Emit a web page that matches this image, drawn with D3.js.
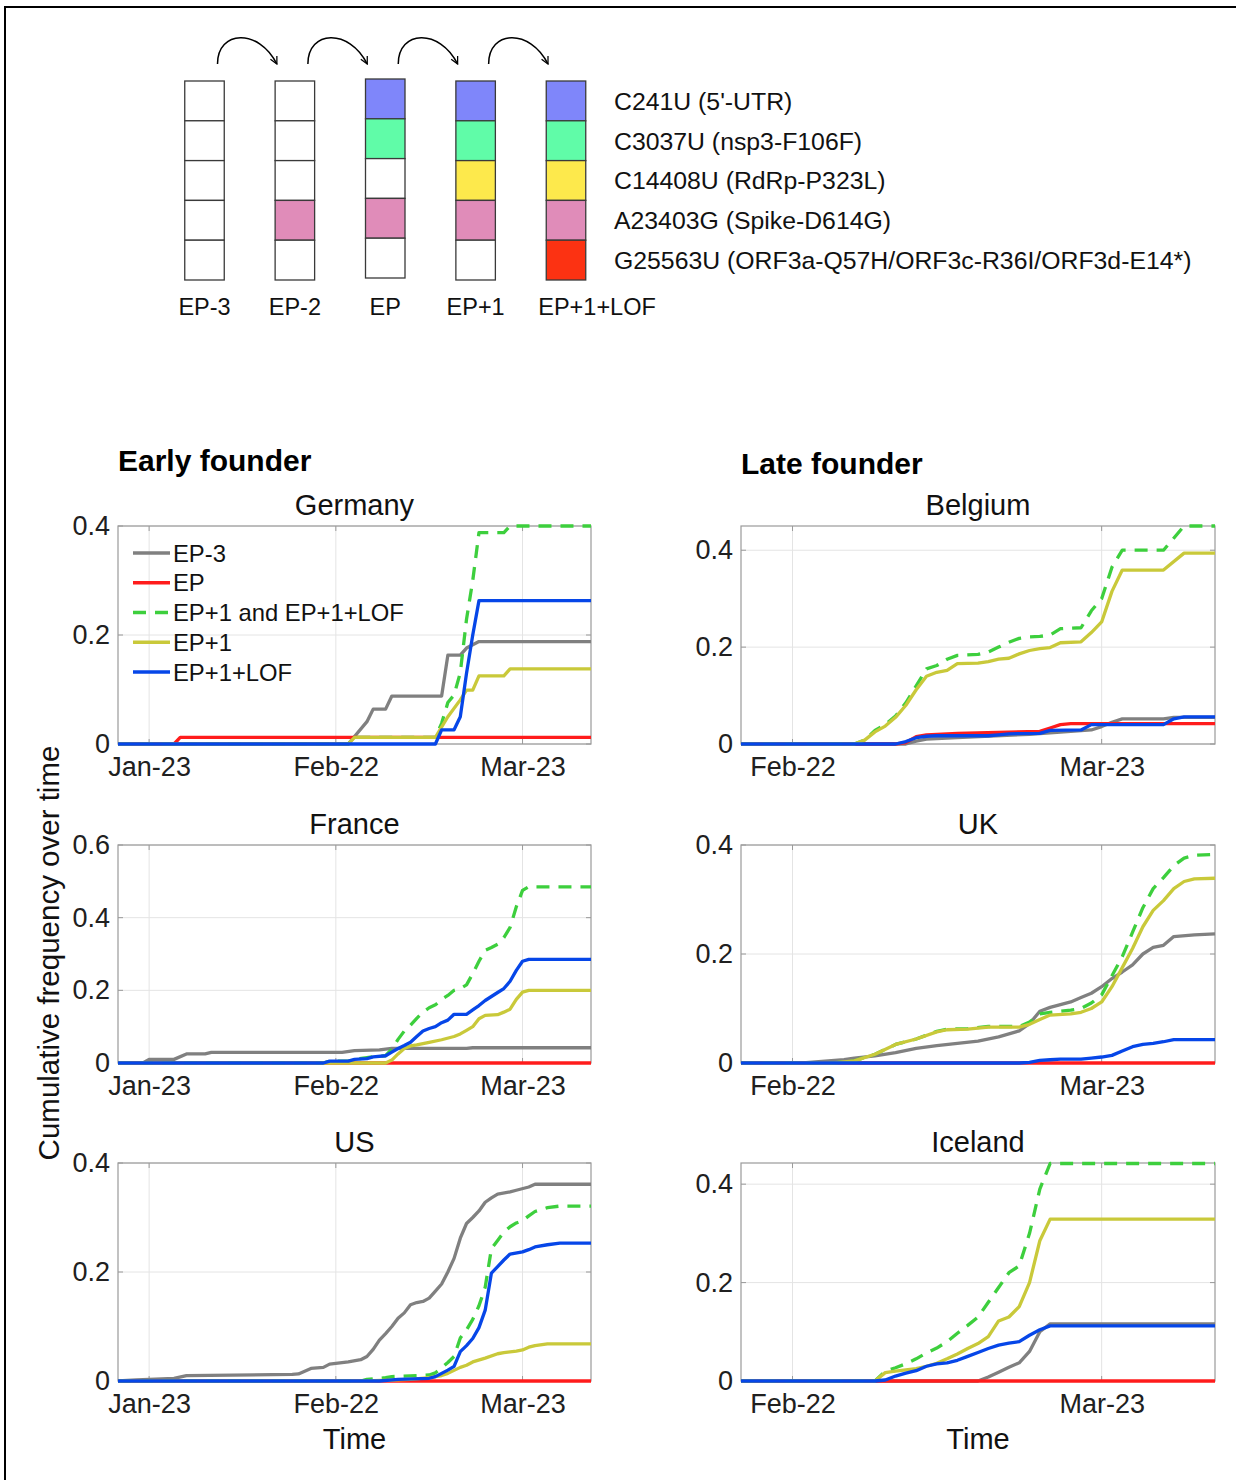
<!DOCTYPE html>
<html>
<head>
<meta charset="utf-8">
<title>EP lineages - cumulative frequency</title>
<style>
  body { margin: 0; background: #fff; }
  svg { font-family: "Liberation Sans", Arial, Helvetica, sans-serif; }
</style>
</head>
<body>
<svg id="fig" width="1236" height="1480"></svg>
<script src="https://cdn.jsdelivr.net/npm/d3@7/dist/d3.min.js"></script>
<script>
// ---- top diagram ----
var genotypes = ["EP-3", "EP-2", "EP", "EP+1", "EP+1+LOF"];
var mutations = ["C241U (5'-UTR)", "C3037U (nsp3-F106F)", "C14408U (RdRp-P323L)",
                 "A23403G (Spike-D614G)", "G25563U (ORF3a-Q57H/ORF3c-R36I/ORF3d-E14*)"];
var mutationColors = ["#7f86fa", "#60fca8", "#fde94c", "#e08cb9", "#fc3212"];
// which mutations each genotype carries (rows follow mutations)
var carries = {
  "EP-3":     [0, 0, 0, 0, 0],
  "EP-2":     [0, 0, 0, 1, 0],
  "EP":       [1, 1, 0, 1, 0],
  "EP+1":     [1, 1, 1, 1, 0],
  "EP+1+LOF": [1, 1, 1, 1, 1]
};

// ---- line charts ----
var seriesNames = ["EP-3", "EP", "EP+1 and EP+1+LOF", "EP+1", "EP+1+LOF"];
var leftTicks = ["01-23", "02-22", "03-23"];
var rightTicks = ["02-22", "03-23"];

var gerEP3 = [["01-18",0],["02-24",0],["02-27",0.041],["02-28",0.064],["03-01",0.064],["03-02",0.088],["03-10",0.088],["03-11",0.163],["03-13",0.163],["03-14",0.176],["03-16",0.188],["04-03",0.188]];
var gerEP = [["01-18",0],["01-27",0],["01-28",0.012],["04-03",0.012]];
var gerBoth = [["01-18",0],["02-24",0],["02-25",0.012],["03-09",0.012],["03-10",0.038],["03-11",0.076],["03-12",0.09],["03-13",0.131],["03-14",0.229],["03-15",0.3],["03-16",0.388],["03-20",0.388],["03-21",0.4],["04-03",0.4]];
var gerEP1 = [["01-18",0],["02-24",0],["02-25",0.012],["03-09",0.012],["03-11",0.05],["03-13",0.081],["03-14",0.099],["03-15",0.099],["03-16",0.125],["03-20",0.125],["03-21",0.138],["04-03",0.138]];
var gerLOF = [["01-18",0],["03-09",0],["03-10",0.026],["03-12",0.026],["03-13",0.05],["03-14",0.13],["03-15",0.2],["03-16",0.263],["04-03",0.263]];

var fraEP3 = [["01-18",0],["01-22",0],["01-23",0.01],["01-27",0.01],["01-29",0.025],["02-01",0.025],["02-02",0.029],["02-23",0.029],["02-25",0.034],["02-29",0.036],["03-02",0.04],["03-14",0.04],["03-15",0.042],["04-03",0.042]];
var fraEP = [["01-18",0],["04-03",0]];
var fraBoth = [["01-18",0],["02-20",0],["02-21",0.005],["02-24",0.005],["02-25",0.01],["02-28",0.017],["03-01",0.02],["03-02",0.038],["03-03",0.065],["03-04",0.088],["03-05",0.104],["03-06",0.123],["03-07",0.14],["03-08",0.152],["03-09",0.16],["03-10",0.175],["03-11",0.186],["03-12",0.2],["03-13",0.205],["03-14",0.215],["03-15",0.246],["03-16",0.28],["03-17",0.31],["03-18",0.318],["03-19",0.327],["03-20",0.345],["03-21",0.373],["03-22",0.43],["03-23",0.475],["03-24",0.485],["04-03",0.485]];
var fraEP1 = [["01-18",0],["03-01",0],["03-02",0.008],["03-03",0.025],["03-04",0.04],["03-05",0.047],["03-06",0.05],["03-08",0.057],["03-10",0.064],["03-12",0.073],["03-13",0.08],["03-14",0.09],["03-15",0.1],["03-16",0.122],["03-17",0.131],["03-19",0.133],["03-20",0.14],["03-21",0.148],["03-22",0.175],["03-23",0.195],["03-24",0.2],["04-03",0.2]];
var fraLOF = [["01-18",0],["02-20",0],["02-21",0.005],["02-24",0.005],["02-25",0.01],["02-27",0.012],["02-28",0.017],["03-01",0.02],["03-02",0.03],["03-03",0.04],["03-04",0.048],["03-05",0.057],["03-06",0.073],["03-07",0.088],["03-08",0.095],["03-09",0.1],["03-10",0.111],["03-11",0.118],["03-12",0.134],["03-14",0.134],["03-15",0.146],["03-16",0.158],["03-17",0.172],["03-18",0.183],["03-19",0.194],["03-20",0.205],["03-21",0.225],["03-22",0.255],["03-23",0.28],["03-24",0.285],["04-03",0.285]];

var usEP3 = [["01-18",0],["01-21",0.002],["01-23",0.003],["01-27",0.005],["01-29",0.01],["02-15",0.012],["02-16",0.013],["02-18",0.023],["02-20",0.025],["02-21",0.031],["02-24",0.035],["02-26",0.039],["02-27",0.045],["02-28",0.058],["02-29",0.075],["03-01",0.087],["03-02",0.1],["03-03",0.115],["03-04",0.125],["03-05",0.14],["03-06",0.144],["03-07",0.146],["03-08",0.152],["03-09",0.165],["03-10",0.178],["03-11",0.2],["03-12",0.225],["03-13",0.262],["03-14",0.289],["03-15",0.3],["03-16",0.312],["03-17",0.328],["03-18",0.336],["03-19",0.343],["03-21",0.347],["03-22",0.35],["03-24",0.356],["03-25",0.361],["04-03",0.361]];
var usEP = [["01-18",0],["04-03",0]];
var usBoth = [["01-18",0],["02-26",0],["02-27",0.003],["03-01",0.006],["03-02",0.008],["03-08",0.011],["03-09",0.015],["03-10",0.024],["03-11",0.034],["03-12",0.045],["03-13",0.079],["03-14",0.094],["03-15",0.113],["03-16",0.138],["03-17",0.172],["03-18",0.243],["03-19",0.258],["03-20",0.273],["03-21",0.283],["03-22",0.29],["03-23",0.294],["03-24",0.303],["03-25",0.311],["03-27",0.318],["03-29",0.321],["04-03",0.321]];
var usEP1 = [["01-18",0],["02-27",0],["03-05",0.003],["03-08",0.006],["03-10",0.01],["03-11",0.014],["03-13",0.025],["03-14",0.029],["03-15",0.035],["03-17",0.042],["03-19",0.05],["03-20",0.052],["03-22",0.055],["03-23",0.057],["03-24",0.062],["03-25",0.065],["03-27",0.068],["04-03",0.068]];
var usLOF = [["01-18",0],["02-29",0],["03-03",0.003],["03-08",0.005],["03-09",0.008],["03-10",0.014],["03-11",0.02],["03-12",0.027],["03-13",0.054],["03-14",0.065],["03-15",0.078],["03-16",0.098],["03-17",0.13],["03-18",0.198],["03-19",0.21],["03-20",0.222],["03-21",0.233],["03-23",0.237],["03-24",0.241],["03-25",0.246],["03-27",0.25],["03-29",0.253],["04-03",0.253]];

var belEP3 = [["02-17",0],["03-04",0],["03-05",0.006],["03-06",0.01],["03-09",0.013],["03-16",0.02],["03-22",0.029],["03-23",0.036],["03-24",0.045],["03-25",0.052],["03-29",0.052],["03-30",0.055],["04-03",0.055]];
var belEP = [["02-17",0],["03-03",0],["03-04",0.003],["03-05",0.015],["03-06",0.019],["03-09",0.022],["03-17",0.026],["03-18",0.033],["03-19",0.04],["03-20",0.042],["04-03",0.042]];
var belBoth = [["02-17",0],["02-28",0],["02-29",0.008],["03-01",0.028],["03-02",0.04],["03-03",0.058],["03-04",0.085],["03-05",0.12],["03-06",0.155],["03-07",0.162],["03-08",0.175],["03-09",0.183],["03-11",0.185],["03-12",0.19],["03-13",0.2],["03-14",0.21],["03-15",0.218],["03-16",0.221],["03-17",0.222],["03-18",0.225],["03-19",0.238],["03-21",0.24],["03-22",0.275],["03-23",0.3],["03-24",0.365],["03-25",0.4],["03-29",0.4],["03-31",0.45],["04-03",0.45]];
var belEP1 = [["02-17",0],["02-28",0],["02-29",0.008],["03-01",0.025],["03-02",0.037],["03-03",0.055],["03-04",0.08],["03-05",0.112],["03-06",0.14],["03-07",0.148],["03-08",0.152],["03-09",0.166],["03-11",0.167],["03-12",0.17],["03-13",0.175],["03-14",0.177],["03-15",0.186],["03-16",0.193],["03-17",0.197],["03-18",0.199],["03-19",0.209],["03-21",0.211],["03-22",0.23],["03-23",0.252],["03-24",0.315],["03-25",0.359],["03-29",0.359],["03-31",0.394],["04-03",0.394]];
var belLOF = [["02-17",0],["03-03",0],["03-04",0.005],["03-05",0.013],["03-06",0.016],["03-07",0.017],["03-12",0.017],["03-13",0.019],["03-14",0.021],["03-17",0.022],["03-18",0.028],["03-21",0.029],["03-22",0.04],["03-29",0.04],["03-30",0.052],["03-31",0.056],["04-03",0.056]];

var ukEP3 = [["02-17",0],["02-23",0],["02-27",0.006],["02-28",0.009],["03-01",0.013],["03-03",0.019],["03-05",0.027],["03-07",0.032],["03-09",0.036],["03-11",0.04],["03-13",0.048],["03-15",0.059],["03-16",0.072],["03-17",0.095],["03-18",0.102],["03-19",0.107],["03-20",0.112],["03-21",0.12],["03-22",0.128],["03-23",0.14],["03-24",0.155],["03-25",0.167],["03-26",0.18],["03-27",0.2],["03-28",0.212],["03-29",0.216],["03-30",0.232],["04-01",0.235],["04-03",0.237]];
var ukEP = [["02-17",0],["04-03",0]];
var ukBoth = [["02-17",0],["02-26",0],["02-28",0.004],["03-01",0.016],["03-03",0.034],["03-05",0.044],["03-07",0.058],["03-08",0.062],["03-10",0.063],["03-12",0.067],["03-15",0.067],["03-16",0.075],["03-17",0.09],["03-18",0.093],["03-20",0.097],["03-21",0.1],["03-22",0.11],["03-23",0.125],["03-24",0.16],["03-25",0.195],["03-26",0.24],["03-27",0.285],["03-28",0.32],["03-29",0.34],["03-30",0.362],["03-31",0.376],["04-01",0.381],["04-03",0.383]];
var ukEP1 = [["02-17",0],["02-26",0],["02-28",0.004],["03-01",0.016],["03-03",0.034],["03-05",0.044],["03-07",0.057],["03-08",0.061],["03-10",0.062],["03-12",0.066],["03-15",0.066],["03-16",0.071],["03-17",0.08],["03-18",0.088],["03-20",0.09],["03-21",0.093],["03-22",0.1],["03-23",0.112],["03-24",0.14],["03-25",0.175],["03-26",0.21],["03-27",0.25],["03-28",0.28],["03-29",0.298],["03-30",0.32],["03-31",0.333],["04-01",0.338],["04-03",0.339]];
var ukLOF = [["02-17",0],["03-15",0],["03-16",0.001],["03-17",0.005],["03-18",0.006],["03-19",0.007],["03-21",0.007],["03-22",0.009],["03-23",0.011],["03-24",0.014],["03-25",0.022],["03-26",0.03],["03-27",0.034],["03-28",0.036],["03-29",0.039],["03-30",0.043],["04-03",0.043]];

var iceEP3 = [["02-17",0],["03-11",0],["03-12",0.008],["03-13",0.018],["03-14",0.028],["03-15",0.037],["03-16",0.06],["03-17",0.1],["03-18",0.116],["04-03",0.116]];
var iceEP = [["02-17",0],["04-03",0]];
var iceBoth = [["02-17",0],["03-01",0],["03-02",0.02],["03-03",0.027],["03-04",0.035],["03-05",0.045],["03-06",0.057],["03-07",0.067],["03-08",0.08],["03-09",0.097],["03-10",0.113],["03-11",0.13],["03-12",0.16],["03-13",0.19],["03-14",0.22],["03-15",0.234],["03-16",0.3],["03-17",0.39],["03-18",0.442],["04-03",0.442]];
var iceEP1 = [["02-17",0],["03-01",0],["03-02",0.017],["03-03",0.02],["03-05",0.025],["03-06",0.03],["03-07",0.036],["03-08",0.045],["03-09",0.055],["03-10",0.066],["03-11",0.076],["03-12",0.09],["03-13",0.122],["03-14",0.13],["03-15",0.151],["03-16",0.2],["03-17",0.285],["03-18",0.329],["04-03",0.329]];
var iceLOF = [["02-17",0],["03-01",0],["03-02",0.002],["03-03",0.01],["03-04",0.016],["03-05",0.021],["03-06",0.03],["03-07",0.035],["03-08",0.037],["03-09",0.042],["03-10",0.05],["03-11",0.058],["03-12",0.066],["03-13",0.073],["03-14",0.077],["03-15",0.08],["03-16",0.093],["03-17",0.104],["03-18",0.112],["04-03",0.112]];

var parseDay = function (s) { return d3.timeParse("%Y-%m-%d")("2020-" + s); };

var svg = d3.select("#fig");

// outer frame (top and left edges only)
svg.append("line").attr("x1", 5).attr("y1", 7).attr("x2", 1236).attr("y2", 7)
  .attr("stroke", "#000").attr("stroke-width", 2);
svg.append("line").attr("x1", 5).attr("y1", 6).attr("x2", 5).attr("y2", 1480)
  .attr("stroke", "#000").attr("stroke-width", 2);

// ---------- genotype diagram ----------
var colX = d3.scalePoint().domain(genotypes).range([204.5, 566]);
var rowY = d3.scaleBand().domain(mutations).range([81, 280]);
var cellW = 39.5;
var diag = svg.append("g");

genotypes.forEach(function (g) {
  var shift = g === "EP" ? -2 : 0;
  mutations.forEach(function (m, j) {
    diag.append("rect")
      .attr("x", colX(g) - cellW / 2)
      .attr("y", rowY(m) + shift)
      .attr("width", cellW)
      .attr("height", rowY.bandwidth())
      .attr("fill", carries[g][j] ? mutationColors[j] : "#fff")
      .attr("stroke", "#3a3a3a")
      .attr("stroke-width", 1.3);
  });
});

diag.selectAll("text.mut").data(mutations).enter().append("text")
  .attr("class", "mut")
  .attr("x", 614)
  .attr("y", function (m) { return rowY(m) + rowY.bandwidth() / 2; })
  .attr("dy", "0.36em")
  .attr("font-size", 24.8)
  .attr("fill", "#111")
  .text(function (m) { return m; });

diag.selectAll("text.geno").data(genotypes).enter().append("text")
  .attr("class", "geno")
  .attr("x", function (g, i) { return i === genotypes.length - 1 ? colX(g) - cellW / 2 - 8 : colX(g); })
  .attr("y", 315)
  .attr("text-anchor", function (g, i) { return i === genotypes.length - 1 ? "start" : "middle"; })
  .attr("font-size", 23.5)
  .attr("fill", "#111")
  .text(function (g) { return g; });

// curved arrows between successive genotypes
var defs = svg.append("defs");
defs.append("marker")
  .attr("id", "head")
  .attr("viewBox", "0 0 10 10")
  .attr("refX", 9).attr("refY", 5)
  .attr("markerWidth", 9).attr("markerHeight", 9)
  .attr("markerUnits", "userSpaceOnUse")
  .attr("orient", "auto")
  .append("path")
  .attr("d", "M1,1 L9,5 L1,9")
  .attr("fill", "none").attr("stroke", "#000").attr("stroke-width", 1.4);

for (var i = 0; i < genotypes.length - 1; i++) {
  var a = colX(genotypes[i]) + 13, b = colX(genotypes[i + 1]) - 18;
  diag.append("path")
    .attr("d", "M" + a + ",64 C" + a + ",30 " + (b - 18) + ",28 " + b + ",64")
    .attr("fill", "none")
    .attr("stroke", "#000")
    .attr("stroke-width", 1.5)
    .attr("marker-end", "url(#head)");
}

// ---------- line charts ----------
var lineColors = ["#808080", "#ff1c1c", "#3dcf3d", "#c9c93a", "#0646e8"];
var dashes = [null, null, "13,9", null, null];

var leftDomain = [parseDay("01-18"), parseDay("04-03")];
var rightDomain = [parseDay("02-17"), parseDay("04-03")];
var colsX = [[118, 591], [741, 1215]];
var rowsY = [[526, 744], [845, 1063], [1163, 1381]];

var panels = [
  { name: "Germany", col: 0, row: 0, yMax: 0.4,   yTicks: [0, 0.2, 0.4],      series: [gerEP3, gerEP, gerBoth, gerEP1, gerLOF], legend: true },
  { name: "France",  col: 0, row: 1, yMax: 0.6,   yTicks: [0, 0.2, 0.4, 0.6], series: [fraEP3, fraEP, fraBoth, fraEP1, fraLOF] },
  { name: "US",      col: 0, row: 2, yMax: 0.4,   yTicks: [0, 0.2, 0.4],      series: [usEP3, usEP, usBoth, usEP1, usLOF], xLabel: true },
  { name: "Belgium", col: 1, row: 0, yMax: 0.45,  yTicks: [0, 0.2, 0.4],      series: [belEP3, belEP, belBoth, belEP1, belLOF] },
  { name: "UK",      col: 1, row: 1, yMax: 0.4,   yTicks: [0, 0.2, 0.4],      series: [ukEP3, ukEP, ukBoth, ukEP1, ukLOF] },
  { name: "Iceland", col: 1, row: 2, yMax: 0.443, yTicks: [0, 0.2, 0.4],      series: [iceEP3, iceEP, iceBoth, iceEP1, iceLOF], xLabel: true }
];

var yFmt = function (d) { return d === 0 ? "0" : d3.format(".1f")(d); };
var axisColor = "#9a9a9a";
var textColor = "#202020";

panels.forEach(function (p) {
  var x0 = colsX[p.col][0], x1 = colsX[p.col][1];
  var yb = rowsY[p.row][1], yt = rowsY[p.row][0];
  var x = d3.scaleTime().domain(p.col === 0 ? leftDomain : rightDomain).range([x0, x1]);
  var y = d3.scaleLinear().domain([0, p.yMax]).range([yb, yt]);
  var xt = (p.col === 0 ? leftTicks : rightTicks).map(parseDay);
  var g = svg.append("g");

  // grid
  g.selectAll("line.vg").data(xt).enter().append("line")
    .attr("x1", function (d) { return x(d); }).attr("x2", function (d) { return x(d); })
    .attr("y1", yt).attr("y2", yb)
    .attr("stroke", "#e4e4e4").attr("stroke-width", 1);
  g.selectAll("line.hg").data(p.yTicks).enter().append("line")
    .attr("x1", x0).attr("x2", x1)
    .attr("y1", function (d) { return y(d); }).attr("y2", function (d) { return y(d); })
    .attr("stroke", "#e4e4e4").attr("stroke-width", 1);

  // box
  g.append("rect").attr("x", x0).attr("y", yt).attr("width", x1 - x0).attr("height", yb - yt)
    .attr("fill", "none").attr("stroke", axisColor).attr("stroke-width", 1.2);

  // inward ticks on all four sides
  xt.forEach(function (d) {
    g.append("line").attr("x1", x(d)).attr("x2", x(d)).attr("y1", yb).attr("y2", yb - 5).attr("stroke", axisColor);
    g.append("line").attr("x1", x(d)).attr("x2", x(d)).attr("y1", yt).attr("y2", yt + 5).attr("stroke", axisColor);
  });
  p.yTicks.forEach(function (d) {
    g.append("line").attr("x1", x0).attr("x2", x0 + 5).attr("y1", y(d)).attr("y2", y(d)).attr("stroke", axisColor);
    g.append("line").attr("x1", x1).attr("x2", x1 - 5).attr("y1", y(d)).attr("y2", y(d)).attr("stroke", axisColor);
  });

  // tick labels
  var ya = g.append("g").attr("transform", "translate(" + x0 + ",0)")
    .call(d3.axisLeft(y).tickValues(p.yTicks).tickFormat(yFmt).tickSize(0).tickPadding(8));
  var xa = g.append("g").attr("transform", "translate(0," + yb + ")")
    .call(d3.axisBottom(x).tickValues(xt).tickFormat(d3.timeFormat("%b-%d")).tickSize(0).tickPadding(13));
  [ya, xa].forEach(function (ax) {
    ax.select(".domain").remove();
    ax.selectAll("text").attr("font-size", 27).attr("fill", textColor)
      .attr("font-family", "\"Liberation Sans\", Arial, sans-serif");
  });

  // series lines
  var line = d3.line()
    .x(function (d) { return x(parseDay(d[0])); })
    .y(function (d) { return y(d[1]); });
  p.series.forEach(function (s, k) {
    g.append("path")
      .attr("d", line(s))
      .attr("fill", "none")
      .attr("stroke", lineColors[k])
      .attr("stroke-width", 3.3)
      .attr("stroke-linejoin", "round")
      .attr("stroke-dasharray", dashes[k]);
  });

  // panel title
  g.append("text")
    .attr("x", (x0 + x1) / 2).attr("y", yt - 11)
    .attr("text-anchor", "middle")
    .attr("font-size", 29).attr("fill", "#111")
    .text(p.name);

  if (p.xLabel) {
    g.append("text")
      .attr("x", (x0 + x1) / 2).attr("y", 1449)
      .attr("text-anchor", "middle")
      .attr("font-size", 29).attr("fill", "#111")
      .text("Time");
  }

  if (p.legend) {
    var lg = g.append("g");
    seriesNames.forEach(function (n, k) {
      var ly = 553 + k * 29.75;
      lg.append("line").attr("x1", 133).attr("x2", 170).attr("y1", ly).attr("y2", ly)
        .attr("stroke", lineColors[k]).attr("stroke-width", 3.3)
        .attr("stroke-dasharray", dashes[k]);
      lg.append("text").attr("x", 173).attr("y", ly).attr("dy", "0.36em")
        .attr("font-size", 23.8).attr("fill", "#111").text(n);
    });
  }
});

// group headings and shared y label
svg.append("text").attr("x", 118).attr("y", 471)
  .attr("font-size", 30).attr("font-weight", "bold").attr("fill", "#000")
  .text("Early founder");
svg.append("text").attr("x", 741).attr("y", 474)
  .attr("font-size", 30).attr("font-weight", "bold").attr("fill", "#000")
  .text("Late founder");
svg.append("text")
  .attr("transform", "translate(59,953) rotate(-90)")
  .attr("text-anchor", "middle")
  .attr("font-size", 29.5).attr("fill", "#111")
  .text("Cumulative frequency over time");
</script>
</body>
</html>
